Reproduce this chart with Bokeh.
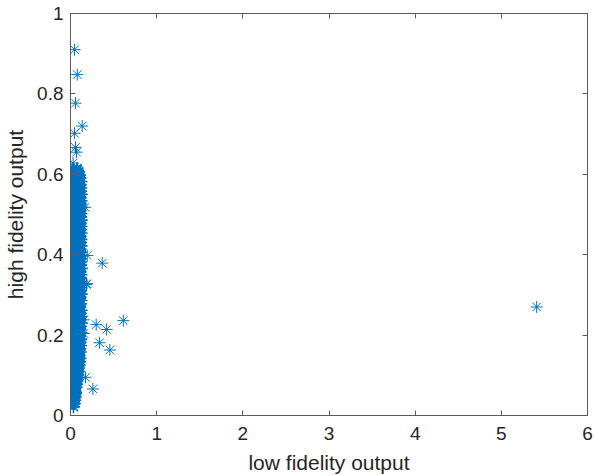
from bokeh.plotting import figure
from bokeh.models import LinearAxis, Range1d, FixedTicker
from bokeh.embed import file_html
from bokeh.resources import INLINE

# ---- data ----
# dense column near x = 0 (main rows)
band_y = [0.022, 0.030, 0.030, 0.038, 0.038, 0.046, 0.046, 0.046,
          0.054, 0.054, 0.054, 0.062, 0.062, 0.062, 0.070, 0.070, 0.070,
          0.078, 0.078, 0.078, 0.086, 0.086, 0.086, 0.094, 0.094, 0.094,
          0.102, 0.102, 0.102, 0.110, 0.110, 0.110, 0.118, 0.118, 0.118,
          0.126, 0.126, 0.126, 0.134, 0.134, 0.134, 0.142, 0.142, 0.142,
          0.150, 0.150, 0.150, 0.158, 0.158, 0.158, 0.166, 0.166, 0.166,
          0.174, 0.174, 0.174, 0.182, 0.182, 0.182, 0.190, 0.190, 0.190,
          0.198, 0.198, 0.198, 0.206, 0.206, 0.206, 0.214, 0.214, 0.214,
          0.222, 0.222, 0.222, 0.230, 0.230, 0.230, 0.238, 0.238, 0.238,
          0.246, 0.246, 0.246, 0.254, 0.254, 0.254, 0.262, 0.262, 0.262,
          0.270, 0.270, 0.270, 0.278, 0.278, 0.278, 0.286, 0.286, 0.286,
          0.294, 0.294, 0.294, 0.302, 0.302, 0.302, 0.310, 0.310, 0.310,
          0.318, 0.318, 0.318, 0.326, 0.326, 0.326, 0.334, 0.334, 0.334,
          0.342, 0.342, 0.342, 0.350, 0.350, 0.350, 0.358, 0.358, 0.358,
          0.366, 0.366, 0.366, 0.374, 0.374, 0.374, 0.382, 0.382, 0.382,
          0.390, 0.390, 0.390, 0.398, 0.398, 0.398, 0.406, 0.406, 0.406,
          0.414, 0.414, 0.414, 0.422, 0.422, 0.422, 0.430, 0.430, 0.430,
          0.438, 0.438, 0.438, 0.446, 0.446, 0.446, 0.454, 0.454, 0.454,
          0.462, 0.462, 0.462, 0.470, 0.470, 0.470, 0.478, 0.478, 0.478,
          0.486, 0.486, 0.486, 0.494, 0.494, 0.494, 0.502, 0.502, 0.502,
          0.510, 0.510, 0.510, 0.518, 0.518, 0.518, 0.526, 0.526, 0.526,
          0.534, 0.534, 0.534, 0.542, 0.542, 0.542, 0.550, 0.550, 0.550,
          0.558, 0.558, 0.558, 0.566, 0.566, 0.566, 0.574, 0.574, 0.574,
          0.582, 0.582, 0.582, 0.590, 0.590, 0.590, 0.598, 0.598, 0.598,
          0.606, 0.606, 0.606, 0.614, 0.614]
band_x = [0.035, 0.028, 0.045, 0.022, 0.050, 0.030, 0.055, 0.018,
          0.015, 0.040, 0.060, 0.025, 0.050, 0.010, 0.012, 0.065, 0.035,
          0.008, 0.045, 0.070, 0.020, 0.075, 0.005, 0.010, 0.055, 0.080,
          0.004, 0.040, 0.085, 0.015, 0.070, 0.090, 0.003, 0.050, 0.095,
          0.010, 0.060, 0.100, 0.002, 0.045, 0.105, 0.008, 0.075, 0.110,
          0.001, 0.055, 0.100, 0.012, 0.080, 0.115, 0.003, 0.050, 0.108,
          0.006, 0.065, 0.118, 0.002, 0.040, 0.112, 0.009, 0.070, 0.120,
          0.001, 0.055, 0.105, 0.007, 0.085, 0.122, 0.003, 0.045, 0.110,
          0.010, 0.065, 0.118, 0.002, 0.050, 0.125, 0.005, 0.075, 0.112,
          0.001, 0.060, 0.120, 0.008, 0.040, 0.115, 0.003, 0.070, 0.124,
          0.006, 0.055, 0.108, 0.002, 0.080, 0.118, 0.009, 0.045, 0.122,
          0.001, 0.065, 0.112, 0.004, 0.050, 0.125, 0.007, 0.075, 0.115,
          0.002, 0.060, 0.120, 0.005, 0.040, 0.110, 0.001, 0.085, 0.124,
          0.008, 0.055, 0.116, 0.003, 0.070, 0.121, 0.006, 0.045, 0.112,
          0.002, 0.065, 0.126, 0.009, 0.050, 0.118, 0.001, 0.080, 0.122,
          0.004, 0.060, 0.114, 0.007, 0.040, 0.125, 0.002, 0.075, 0.119,
          0.005, 0.055, 0.112, 0.001, 0.070, 0.123, 0.008, 0.045, 0.116,
          0.003, 0.065, 0.121, 0.006, 0.050, 0.113, 0.002, 0.085, 0.124,
          0.009, 0.060, 0.117, 0.001, 0.040, 0.122, 0.004, 0.075, 0.114,
          0.007, 0.055, 0.125, 0.002, 0.070, 0.118, 0.005, 0.045, 0.121,
          0.001, 0.065, 0.112, 0.008, 0.050, 0.124, 0.003, 0.080, 0.116,
          0.006, 0.060, 0.122, 0.002, 0.040, 0.113, 0.009, 0.075, 0.125,
          0.001, 0.055, 0.118, 0.004, 0.070, 0.120, 0.007, 0.045, 0.114,
          0.002, 0.065, 0.122, 0.005, 0.050, 0.110, 0.010, 0.080, 0.105,
          0.015, 0.060, 0.095, 0.030, 0.075]

# dense column near x = 0 (in-between rows)
band2_y = [0.034, 0.042, 0.050, 0.050, 0.058, 0.058, 0.066, 0.066,
           0.074, 0.074, 0.082, 0.082, 0.090, 0.090, 0.098, 0.098,
           0.106, 0.106, 0.114, 0.114, 0.122, 0.122, 0.130, 0.130,
           0.138, 0.138, 0.146, 0.146, 0.154, 0.154, 0.162, 0.162,
           0.170, 0.170, 0.178, 0.178, 0.186, 0.186, 0.194, 0.194,
           0.202, 0.202, 0.210, 0.210, 0.218, 0.218, 0.226, 0.226,
           0.234, 0.234, 0.242, 0.242, 0.250, 0.250, 0.258, 0.258,
           0.266, 0.266, 0.274, 0.274, 0.282, 0.282, 0.290, 0.290,
           0.298, 0.298, 0.306, 0.306, 0.314, 0.314, 0.322, 0.322,
           0.330, 0.330, 0.338, 0.338, 0.346, 0.346, 0.354, 0.354,
           0.362, 0.362, 0.370, 0.370, 0.378, 0.378, 0.386, 0.386,
           0.394, 0.394, 0.402, 0.402, 0.410, 0.410, 0.418, 0.418,
           0.426, 0.426, 0.434, 0.434, 0.442, 0.442, 0.450, 0.450,
           0.458, 0.458, 0.466, 0.466, 0.474, 0.474, 0.482, 0.482,
           0.490, 0.490, 0.498, 0.498, 0.506, 0.506, 0.514, 0.514,
           0.522, 0.522, 0.530, 0.530, 0.538, 0.538, 0.546, 0.546,
           0.554, 0.554, 0.562, 0.562, 0.570, 0.570, 0.578, 0.578,
           0.586, 0.586, 0.594, 0.594, 0.602, 0.602, 0.610, 0.610]
band2_x = [0.036, 0.040, 0.028, 0.048, 0.032, 0.058, 0.020, 0.042,
           0.028, 0.055, 0.032, 0.062, 0.030, 0.068, 0.025, 0.072,
           0.028, 0.078, 0.030, 0.082, 0.025, 0.088, 0.030, 0.085,
           0.028, 0.092, 0.025, 0.095, 0.032, 0.090, 0.020, 0.098,
           0.035, 0.088, 0.026, 0.094, 0.030, 0.099, 0.022, 0.091,
           0.034, 0.096, 0.027, 0.089, 0.031, 0.100, 0.024, 0.093,
           0.033, 0.087, 0.026, 0.097, 0.029, 0.092, 0.021, 0.099,
           0.035, 0.090, 0.028, 0.095, 0.032, 0.088, 0.023, 0.098,
           0.030, 0.093, 0.026, 0.100, 0.034, 0.089, 0.027, 0.096,
           0.031, 0.091, 0.024, 0.099, 0.033, 0.088, 0.028, 0.094,
           0.030, 0.097, 0.022, 0.090, 0.035, 0.095, 0.027, 0.092,
           0.031, 0.099, 0.025, 0.087, 0.033, 0.096, 0.029, 0.093,
           0.026, 0.100, 0.034, 0.089, 0.028, 0.095, 0.032, 0.091,
           0.023, 0.098, 0.030, 0.088, 0.027, 0.094, 0.035, 0.097,
           0.029, 0.090, 0.024, 0.099, 0.031, 0.092, 0.026, 0.095,
           0.033, 0.088, 0.028, 0.097, 0.030, 0.091, 0.022, 0.094,
           0.034, 0.099, 0.027, 0.090, 0.031, 0.096, 0.025, 0.092,
           0.032, 0.088, 0.028, 0.094, 0.035, 0.085, 0.040, 0.080]

# sparse points above and to the right of the column
sparse_x = [0.047, 0.078, 0.058, 0.136, 0.047, 0.058, 0.070, 0.030,
            0.368, 0.613, 0.298, 0.419, 0.337, 0.457, 0.260, 0.174,
            0.186, 0.194, 0.170, 0.155, 0.155, 0.190, 5.41]
sparse_y = [0.910, 0.848, 0.777, 0.720, 0.702, 0.667, 0.655, 0.628,
            0.379, 0.236, 0.226, 0.214, 0.181, 0.163, 0.066, 0.095,
            0.326, 0.398, 0.518, 0.238, 0.204, 0.328, 0.270]

x_ticks = [0, 1, 2, 3, 4, 5, 6]
y_ticks = [0, 0.2, 0.4, 0.6, 0.8, 1]
y_tick_labels = {0: "0", 0.2: "0.2", 0.4: "0.4", 0.6: "0.6", 0.8: "0.8", 1: "1"}

FONT = "Liberation Sans"
AX = "#262626"
LINE = "#5a5a5a"
BLUE = "#0072BD"

p = figure(frame_width=517, frame_height=402,
           x_range=Range1d(0, 6), y_range=Range1d(0, 1),
           output_backend="svg", toolbar_location=None,
           min_border_left=70, min_border_top=13,
           min_border_right=9, min_border_bottom=61,
           background_fill_color="white", border_fill_color="white")
p.grid.visible = False
p.outline_line_color = LINE
p.outline_line_width = 1

p.scatter(band_x + band2_x, band_y + band2_y, marker="asterisk", size=13,
          line_color=BLUE, line_width=1.6)
p.scatter(sparse_x, sparse_y, marker="asterisk", size=12,
          line_color=BLUE, line_width=1)

for ax in p.xaxis:
    ax.ticker = FixedTicker(ticks=x_ticks)
    ax.axis_label = "low fidelity output"
    ax.axis_label_text_font = FONT
    ax.axis_label_text_font_size = "21px"
    ax.axis_label_text_font_style = "normal"
    ax.axis_label_text_color = AX
    ax.axis_label_standoff = 8
    ax.major_label_text_font = FONT
    ax.major_label_text_font_size = "19px"
    ax.major_label_text_color = AX
    ax.major_label_standoff = 11
    ax.major_tick_in = 5
    ax.major_tick_out = 0
    ax.minor_tick_line_color = None
    ax.axis_line_color = LINE
    ax.major_tick_line_color = LINE

for ax in p.yaxis:
    ax.ticker = FixedTicker(ticks=y_ticks)
    ax.major_label_overrides = y_tick_labels
    ax.axis_label = "high fidelity output"
    ax.axis_label_text_font = FONT
    ax.axis_label_text_font_size = "21px"
    ax.axis_label_text_font_style = "normal"
    ax.axis_label_text_color = AX
    ax.axis_label_standoff = 7
    ax.major_label_text_font = FONT
    ax.major_label_text_font_size = "19px"
    ax.major_label_text_color = AX
    ax.major_label_standoff = 7
    ax.major_tick_in = 5
    ax.major_tick_out = 0
    ax.minor_tick_line_color = None
    ax.axis_line_color = LINE
    ax.major_tick_line_color = LINE

top = LinearAxis(ticker=FixedTicker(ticks=x_ticks), major_tick_in=5, major_tick_out=0,
                 major_label_text_font_size="1px", major_label_text_alpha=0,
                 major_label_standoff=0, minor_tick_line_color=None,
                 axis_line_color=LINE, major_tick_line_color=LINE)
right = LinearAxis(ticker=FixedTicker(ticks=y_ticks), major_tick_in=5, major_tick_out=0,
                   major_label_text_font_size="1px", major_label_text_alpha=0,
                   major_label_standoff=0, minor_tick_line_color=None,
                   axis_line_color=LINE, major_tick_line_color=LINE)
p.add_layout(top, "above")
p.add_layout(right, "right")

open("out.html", "w").write(file_html(p, INLINE))
